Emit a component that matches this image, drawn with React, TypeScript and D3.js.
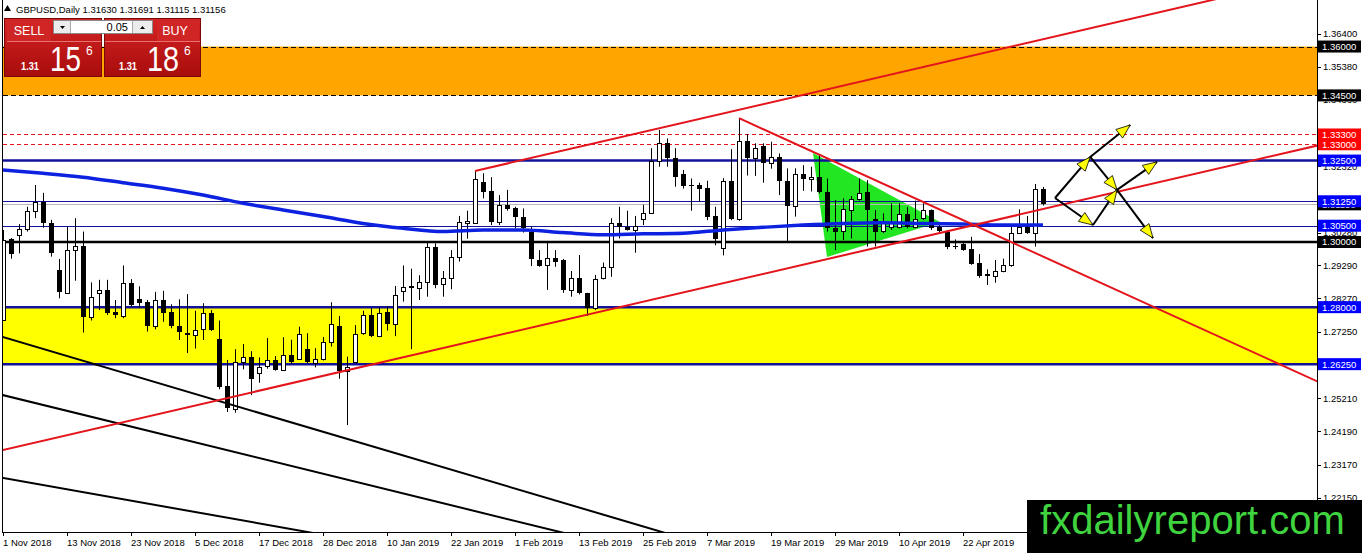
import React from "react";
import * as d3 from "d3";

// ---------- DATA ----------
const opens = [
  1.2761, 1.3008, 1.3021, 1.3039, 1.3095, 1.3123, 1.3057, 1.2914, 1.2844, 1.2975,
  1.2988, 1.2771, 1.2843, 1.2853, 1.2785, 1.2773, 1.2873, 1.2824, 1.2817, 1.2743,
  1.2822, 1.2785, 1.2743, 1.2720, 1.2714, 1.2732, 1.2781, 1.2702, 1.2558, 1.2486,
  1.2632, 1.2646, 1.2599, 1.2618, 1.2638, 1.2607, 1.2652, 1.2642, 1.2672, 1.2630,
  1.2640, 1.2694, 1.2742, 1.2605, 1.2632, 1.2720, 1.2775, 1.2712, 1.2785, 1.2748,
  1.2851, 1.2865, 1.2858, 1.2878, 1.2984, 1.2871, 1.2889, 1.2953, 1.3059, 1.3059,
  1.3183, 1.3156, 1.3062, 1.3113, 1.3104, 1.3076, 1.3032, 1.2945, 1.2929, 1.2950,
  1.2945, 1.2853, 1.2888, 1.2843, 1.2797, 1.2888, 1.2922, 1.3059, 1.3047, 1.3037,
  1.3070, 1.3090, 1.3249, 1.3303, 1.3257, 1.3209, 1.3174, 1.3174, 1.3165, 1.3080,
  1.2982, 1.3187, 1.3070, 1.3310, 1.3257, 1.3295, 1.3242, 1.3262, 1.3188, 1.3111,
  1.3208, 1.3193, 1.3200, 1.3155, 1.3042, 1.3035, 1.3098, 1.3131, 1.3154, 1.3070,
  1.3035, 1.3047, 1.3047, 1.3085, 1.3047, 1.3075, 1.3098, 1.3047, 1.3032, 1.2988,
  1.2993, 1.2978, 1.2935, 1.2902, 1.2896, 1.2912, 1.2929, 1.3029, 1.3045, 1.3027,
  1.3163,
];
const highs = [
  1.3037, 1.3012, 1.3055, 1.3108, 1.3175, 1.3151, 1.3068, 1.2948, 1.3047, 1.3073,
  1.3032, 1.2876, 1.2884, 1.2884, 1.2822, 1.2928, 1.2886, 1.2864, 1.2822, 1.2847,
  1.2850, 1.2809, 1.2824, 1.2840, 1.2789, 1.2812, 1.2791, 1.2759, 1.2638, 1.2671,
  1.2687, 1.2665, 1.2646, 1.2705, 1.2650, 1.2708, 1.2700, 1.2740, 1.2720, 1.2674,
  1.2708, 1.2815, 1.2773, 1.2648, 1.2745, 1.2789, 1.2797, 1.2800, 1.2802, 1.2865,
  1.2928, 1.2918, 1.2898, 1.2998, 1.2996, 1.2911, 1.2975, 1.3080, 1.3096, 1.3218,
  1.3211, 1.3199, 1.3144, 1.3160, 1.3108, 1.3103, 1.3047, 1.2975, 1.2998, 1.2975,
  1.2948, 1.2911, 1.2960, 1.2844, 1.2899, 1.2937, 1.3073, 1.3108, 1.3096, 1.3080,
  1.3114, 1.3288, 1.3344, 1.3318, 1.3288, 1.3221, 1.3195, 1.3182, 1.3188, 1.3108,
  1.3196, 1.3285, 1.3380, 1.3331, 1.3303, 1.3303, 1.3308, 1.3272, 1.3226, 1.3226,
  1.3236, 1.3231, 1.3267, 1.3195, 1.3129, 1.3134, 1.3141, 1.3195, 1.3190, 1.3098,
  1.3088, 1.3119, 1.3119, 1.3108, 1.3127, 1.3119, 1.3100, 1.3057, 1.3037, 1.3008,
  1.2998, 1.3016, 1.2963, 1.2916, 1.2945, 1.2949, 1.3047, 1.3100, 1.3080, 1.3178,
  1.3169,
];
const lows = [
  1.2758, 1.2949, 1.2965, 1.3032, 1.3073, 1.3044, 1.2955, 1.2827, 1.2843, 1.2881,
  1.2722, 1.2759, 1.2791, 1.2776, 1.2766, 1.2766, 1.2801, 1.2798, 1.2725, 1.2732,
  1.2755, 1.2735, 1.2699, 1.2659, 1.2673, 1.2699, 1.2727, 1.2548, 1.2478, 1.2476,
  1.2609, 1.2530, 1.2568, 1.2611, 1.2605, 1.2605, 1.2626, 1.2638, 1.2628, 1.2615,
  1.2636, 1.2679, 1.2580, 1.2438, 1.2628, 1.2715, 1.2708, 1.2708, 1.2728, 1.2711,
  1.2817, 1.2671, 1.2822, 1.2832, 1.2858, 1.2832, 1.2855, 1.2940, 1.3010, 1.3057,
  1.3134, 1.3052, 1.3052, 1.3096, 1.3042, 1.3029, 1.2926, 1.2924, 1.2853, 1.2924,
  1.2844, 1.2832, 1.2839, 1.2773, 1.2791, 1.2885, 1.2893, 1.3011, 1.3035, 1.2967,
  1.3052, 1.3088, 1.3231, 1.3231, 1.3170, 1.3164, 1.3096, 1.3123, 1.3067, 1.2990,
  1.2959, 1.3067, 1.3065, 1.3204, 1.3203, 1.3182, 1.3225, 1.3144, 1.3001, 1.3078,
  1.3157, 1.3155, 1.3149, 1.3032, 1.2975, 1.3006, 1.3011, 1.3127, 1.2986, 1.2986,
  1.3027, 1.3037, 1.3042, 1.3042, 1.3042, 1.3067, 1.3037, 1.3027, 1.2978, 1.2978,
  1.2973, 1.2930, 1.2890, 1.2868, 1.2875, 1.2907, 1.2924, 1.3027, 1.3025, 1.2986,
  1.3112,
];
const closes = [
  1.3006, 1.2963, 1.3039, 1.3095, 1.3123, 1.3057, 1.2967, 1.2848, 1.2975, 1.2988,
  1.2771, 1.2832, 1.2853, 1.2783, 1.2775, 1.2873, 1.2807, 1.2814, 1.2743, 1.2822,
  1.2783, 1.2743, 1.2723, 1.2714, 1.2730, 1.2781, 1.2730, 1.2556, 1.2490, 1.2633,
  1.2648, 1.2580, 1.2615, 1.2638, 1.2607, 1.2652, 1.2632, 1.2718, 1.2632, 1.2640,
  1.2694, 1.2747, 1.2605, 1.2617, 1.2718, 1.2775, 1.2712, 1.2783, 1.2748, 1.2836,
  1.2863, 1.2858, 1.2878, 1.2984, 1.2868, 1.2888, 1.2953, 1.3062, 1.3064, 1.3192,
  1.3154, 1.3062, 1.3113, 1.3101, 1.3076, 1.3042, 1.2947, 1.2927, 1.2950, 1.2940,
  1.2853, 1.2888, 1.2843, 1.2797, 1.2885, 1.2922, 1.3059, 1.3045, 1.3037, 1.3049,
  1.3090, 1.3249, 1.3303, 1.3257, 1.3200, 1.3172, 1.3172, 1.3164, 1.3078, 1.3010,
  1.3187, 1.3070, 1.3310, 1.3257, 1.3288, 1.3242, 1.3262, 1.3188, 1.3111, 1.3208,
  1.3193, 1.3200, 1.3155, 1.3042, 1.3030, 1.3100, 1.3131, 1.3151, 1.3098, 1.3032,
  1.3057, 1.3057, 1.3085, 1.3047, 1.3070, 1.3098, 1.3042, 1.3035, 1.2986, 1.2986,
  1.2975, 1.2933, 1.2897, 1.2896, 1.2912, 1.2929, 1.3029, 1.3045, 1.3027, 1.3164,
  1.3116,
];

// 200-period moving average, sampled every 5 bars
const maBars = [0, 5, 10, 15, 20, 25, 30, 35, 40, 45, 50, 55, 60, 65, 70, 75, 80, 85, 90, 95, 100, 105, 110, 115, 120, 125, 130];
const maValues = [
  1.3221, 1.3211, 1.3199, 1.3182, 1.3165, 1.3144, 1.3119, 1.3098, 1.3078, 1.3057,
  1.3042, 1.3032, 1.3037, 1.3037, 1.3029, 1.3022, 1.3025, 1.3027, 1.3037, 1.3045,
  1.3052, 1.3057, 1.3059, 1.3057, 1.3055, 1.3052, 1.3052,
];

const dateLabels = [
  "1 Nov 2018", "13 Nov 2018", "23 Nov 2018", "5 Dec 2018", "17 Dec 2018", "28 Dec 2018",
  "10 Jan 2019", "22 Jan 2019", "1 Feb 2019", "13 Feb 2019", "25 Feb 2019", "7 Mar 2019",
  "19 Mar 2019", "29 Mar 2019", "10 Apr 2019", "22 Apr 2019",
];
const dateLabelBars = [0, 8, 16, 24, 32, 40, 48, 56, 64, 72, 80, 88, 96, 104, 112, 120];

const priceTicks = [1.364, 1.3538, 1.3436, 1.3334, 1.3232, 1.313, 1.3028, 1.2929, 1.2827, 1.2725, 1.2623, 1.2521, 1.2419, 1.2317, 1.2215];

const orangeZone = [1.36, 1.345];
const yellowZone = [1.28, 1.2625];
const blueLevels = [1.325, 1.3125, 1.305, 1.28, 1.2625];
const blueThick = [1.325, 1.28, 1.2625];
const redDashedLevels = [1.333, 1.33];
const blackDashedLevels = [1.36, 1.345];
const blackSolidLevels = [1.3];
const bidPrice = 1.31156;

const header = "GBPUSD,Daily  1.31630 1.31691 1.31115 1.31156";

// trend lines: [bar, price] pairs
const redRisingTop = [[59, 1.3218], [82, 1.3349]];
const redChannel = [[27, 1.2515], [130, 1.3101]];
const redFalling = [[92, 1.338], [132, 1.2933]];
const blackLineA = [[0, 1.2708], [80, 1.2127]];
const blackLineB = [[0, 1.253], [60, 1.2168]];
const blackLineC = [[0, 1.2276], [30, 1.2145]];

const greenTriangle = [[101.25, 1.3273], [103, 1.2954], [117.1, 1.3061]];

const arrowPoints = {
  p0: [131.5, 1.3135],
  p1: [135.9, 1.3261],
  p2: [140.9, 1.3359],
  p3: [139.25, 1.316],
  p4: [143.75, 1.3012],
  p5: [136.25, 1.3052],
  p6: [144.25, 1.3246],
};
const arrowSegments = [
  ["p0", "p1"], ["p1", "p2"], ["p1", "p3"], ["p3", "p4"], ["p0", "p5"], ["p5", "p3"], ["p3", "p6"],
];

// ---------- COMPONENT ----------
const FONT = '"Liberation Sans", Arial, sans-serif';

export default function App() {
  const W = 1362;
  const H = 553;
  const plotL = 2;
  const plotR = 1317;
  const plotT = 0;
  const plotB = 532;

  const x = d3.scaleLinear().domain([0, 130]).range([3, 1043]);
  const y = d3.scaleLinear().domain([1.364, 1.2317]).range([33.5, 464.5]);

  const lineThrough = (pts: number[][], mode: "both" | "right") => {
    const x1 = x(pts[0][0]), y1 = y(pts[0][1]);
    const x2 = x(pts[1][0]), y2 = y(pts[1][1]);
    const k = (y2 - y1) / (x2 - x1);
    const xs = mode === "both" ? -20 : x1;
    const xe = 1340;
    return { x1: xs, y1: y1 + k * (xs - x1), x2: xe, y2: y1 + k * (xe - x1) };
  };

  const maLine = d3
    .line<number>()
    .x((_, i) => x(maBars[i]))
    .y((d) => y(d))
    .curve(d3.curveMonotoneX)(maValues) as string;

  const triPath = d3.line<number[]>().x((d) => x(d[0])).y((d) => y(d[1]))(greenTriangle) + "Z";

  const crisp = (v: number) => Math.round(v) + 0.5;

  const NAVY = "#12129a";
  const RED = "#e3141c";

  const redLines = [
    lineThrough(redRisingTop, "right"),
    lineThrough(redChannel, "both"),
    lineThrough(redFalling, "right"),
  ];
  const blackLines = [lineThrough(blackLineA, "both"), lineThrough(blackLineB, "both"), lineThrough(blackLineC, "both")];

  const arrows = arrowSegments.map(([a, b]) => {
    const pa = (arrowPoints as any)[a];
    const pb = (arrowPoints as any)[b];
    const xa = x(pa[0]), ya = y(pa[1]);
    const xb = x(pb[0]), yb = y(pb[1]);
    const ang = Math.atan2(yb - ya, xb - xa);
    const len = 14, hw = 5.5;
    const bx = xb - len * Math.cos(ang), by = yb - len * Math.sin(ang);
    const px = -Math.sin(ang), py = Math.cos(ang);
    const head = `M${xb},${yb}L${bx + hw * px},${by + hw * py}L${bx - hw * px},${by - hw * py}Z`;
    return { xa, ya, xb, yb, head };
  });

  const levelLabel = (p: number, fill: string, key: string) => {
    const ly = y(p);
    return (
      <g key={key}>
        <rect x={1318} y={ly - 6} width={43} height={12} fill={fill} />
        <text x={1322} y={ly + 3.5} fontSize={9.5} fill="#fff" fontFamily={FONT}>
          {p.toFixed(5)}
        </text>
      </g>
    );
  };

  return (
    <div style={{ width: W, height: H }}>
      <style>{"body{margin:0;background:#fff}"}</style>
      <svg width={W} height={H} style={{ display: "block", background: "#fff" }} fontFamily={FONT}>
        <defs>
          <clipPath id="plot">
            <rect x={plotL} y={plotT} width={plotR - plotL} height={plotB - plotT} />
          </clipPath>
          <linearGradient id="redg" x1="0" y1="0" x2="0" y2="1">
            <stop offset="0" stopColor="#d42424" />
            <stop offset="1" stopColor="#a80c0c" />
          </linearGradient>
        </defs>

        <g clipPath="url(#plot)">
          {/* zones */}
          <rect x={3} y={y(orangeZone[0])} width={plotR - 3} height={y(orangeZone[1]) - y(orangeZone[0])} fill="#ffa500" />
          <rect x={3} y={y(yellowZone[0])} width={plotR - 3} height={y(yellowZone[1]) - y(yellowZone[0])} fill="#ffff00" />

          {/* green triangle */}
          <path d={triPath} fill="#22e622" />

          {/* horizontal levels */}
          {blackDashedLevels.map((p) => (
            <line key={"bd" + p} x1={3} x2={plotR} y1={crisp(y(p))} y2={crisp(y(p))} stroke="#000" strokeWidth={1} strokeDasharray="5,3" />
          ))}
          {redDashedLevels.map((p) => (
            <line key={"rd" + p} x1={3} x2={plotR} y1={crisp(y(p))} y2={crisp(y(p))} stroke={RED} strokeWidth={1} strokeDasharray="4,3" />
          ))}
          <line x1={3} x2={plotR} y1={crisp(y(bidPrice))} y2={crisp(y(bidPrice))} stroke="#b8b8b8" strokeWidth={1} />
          {blueLevels.map((p) => (
            <line
              key={"bl" + p}
              x1={3}
              x2={plotR}
              y1={blueThick.includes(p) ? y(p) : crisp(y(p))}
              y2={blueThick.includes(p) ? y(p) : crisp(y(p))}
              stroke={NAVY}
              strokeWidth={blueThick.includes(p) ? 2.5 : 1}
            />
          ))}
          {blackSolidLevels.map((p) => (
            <line key={"bs" + p} x1={3} x2={plotR} y1={y(p)} y2={y(p)} stroke="#000" strokeWidth={2.5} />
          ))}

          {/* candles */}
          {opens.map((o, i) => {
            const c = closes[i];
            const cx = Math.round(x(i));
            const top = y(Math.max(o, c));
            const bot = y(Math.min(o, c));
            const bull = c >= o;
            return (
              <g key={"c" + i}>
                <line x1={cx + 0.5} x2={cx + 0.5} y1={y(highs[i])} y2={y(lows[i])} stroke="#000" strokeWidth={1} />
                {bull ? (
                  <rect x={cx - 1.5} y={Math.round(top) + 0.5} width={4} height={Math.max(Math.round(bot) - Math.round(top), 0)} fill="#fff" stroke="#000" strokeWidth={1} />
                ) : (
                  <rect x={cx - 2} y={Math.round(top)} width={5} height={Math.max(Math.round(bot) - Math.round(top), 1)} fill="#000" />
                )}
              </g>
            );
          })}

          {/* moving average */}
          <path d={maLine} fill="none" stroke="#0c22e0" strokeWidth={3.5} />

          {/* trend lines */}
          {blackLines.map((l, i) => (
            <line key={"bk" + i} {...l} stroke="#000" strokeWidth={2} />
          ))}
          {redLines.map((l, i) => (
            <line key={"rl" + i} {...l} stroke={RED} strokeWidth={2} />
          ))}

          {/* arrows */}
          {arrows.map((a, i) => (
            <line key={"as" + i} x1={a.xa} y1={a.ya} x2={a.xb} y2={a.yb} stroke="#000" strokeWidth={2} />
          ))}
          {arrows.map((a, i) => (
            <path key={"ah" + i} d={a.head} fill="#ffff00" stroke="#000" strokeWidth={0.8} />
          ))}
        </g>

        {/* frame */}
        <line x1={2.5} x2={2.5} y1={0} y2={plotB} stroke="#000" strokeWidth={1} />
        <line x1={plotR + 0.5} x2={plotR + 0.5} y1={0} y2={plotB + 1} stroke="#000" strokeWidth={1} />
        <line x1={2} x2={plotR + 1} y1={plotB + 0.5} y2={plotB + 0.5} stroke="#000" strokeWidth={1} />

        {/* price axis ticks */}
        {priceTicks.map((p) => (
          <g key={"pt" + p}>
            <line x1={plotR} x2={plotR + 4} y1={crisp(y(p))} y2={crisp(y(p))} stroke="#000" />
            <text x={1323} y={y(p) + 3.5} fontSize={9.5} fill="#000">
              {p.toFixed(5)}
            </text>
          </g>
        ))}

        {/* level labels */}
        {levelLabel(bidPrice, "#000", "bid")}
        {levelLabel(1.36, "#000", "l1")}
        {levelLabel(1.345, "#000", "l2")}
        {redDashedLevels.map((p) => levelLabel(p, "#ff0000", "r" + p))}
        {blueLevels.map((p) => levelLabel(p, "#0000ff", "b" + p))}
        {blackSolidLevels.map((p) => levelLabel(p, "#000", "k" + p))}

        {/* date axis */}
        {dateLabels.map((d, i) => {
          const bx = Math.round(x(dateLabelBars[i]));
          return (
            <g key={"d" + i}>
              <line x1={bx + 0.5} x2={bx + 0.5} y1={plotB} y2={plotB + 4} stroke="#000" />
              <text x={bx} y={546} fontSize={9.5} fill="#000">
                {d}
              </text>
            </g>
          );
        })}

        {/* header */}
        <path d="M4,11L7.5,5L11,11Z" fill="#000" />
        <text x={16} y={13} fontSize={9.5} fill="#000">
          {header}
        </text>

        {/* one-click trading panel */}
        <g>
          <rect x={4.5} y={18.5} width={97} height={58} fill="url(#redg)" stroke="#7a0808" />
          <rect x={104.5} y={18.5} width={96} height={58} fill="url(#redg)" stroke="#7a0808" />
          <rect x={7} y={21} width={44} height={20} fill="#cf2525" />
          <line x1={7} x2={101} y1={41.5} y2={41.5} stroke="#e87070" strokeWidth={1} />
          <rect x={157} y={21} width={42} height={20} fill="#cf2525" />
          <line x1={105} x2={200} y1={41.5} y2={41.5} stroke="#e87070" strokeWidth={1} />
          <text x={29} y={35} fontSize={12.5} fill="#fff" textAnchor="middle">SELL</text>
          <text x={175} y={35} fontSize={12.5} fill="#fff" textAnchor="middle">BUY</text>

          <rect x={53.5} y={20.5} width={99} height={13} fill="#fff" stroke="#8a8a8a" />
          <rect x={54} y={21} width={16} height={12} fill="#ececec" />
          <rect x={133} y={21} width={19} height={12} fill="#ececec" />
          <line x1={70.5} x2={70.5} y1={21} y2={33} stroke="#aaa" />
          <line x1={132.5} x2={132.5} y1={21} y2={33} stroke="#aaa" />
          <path d="M60,26L65,26L62.5,29Z" fill="#000" />
          <path d="M140,29L145,29L142.5,26Z" fill="#000" />
          <text x={128} y={31} fontSize={11} fill="#000" textAnchor="end">0.05</text>

          <text x={21} y={70} fontSize={11} fontWeight="bold" fill="#fff" textLength={18} lengthAdjust="spacingAndGlyphs">1.31</text>
          <text x={50} y={71} fontSize={35} fill="#fff" textLength={31} lengthAdjust="spacingAndGlyphs">15</text>
          <text x={86} y={55} fontSize={12} fill="#fff">6</text>

          <text x={119} y={70} fontSize={11} fontWeight="bold" fill="#fff" textLength={18} lengthAdjust="spacingAndGlyphs">1.31</text>
          <text x={147} y={71} fontSize={35} fill="#fff" textLength={32} lengthAdjust="spacingAndGlyphs">18</text>
          <text x={184} y={55} fontSize={12} fill="#fff">6</text>
        </g>

        {/* watermark */}
        <rect x={1027} y={500} width={335} height={53} fill="#000" />
        <text x={1040} y={534} fontSize={41} fill="#3fd43f" textLength={305} lengthAdjust="spacingAndGlyphs">
          fxdailyreport.com
        </text>
      </svg>
    </div>
  );
}
